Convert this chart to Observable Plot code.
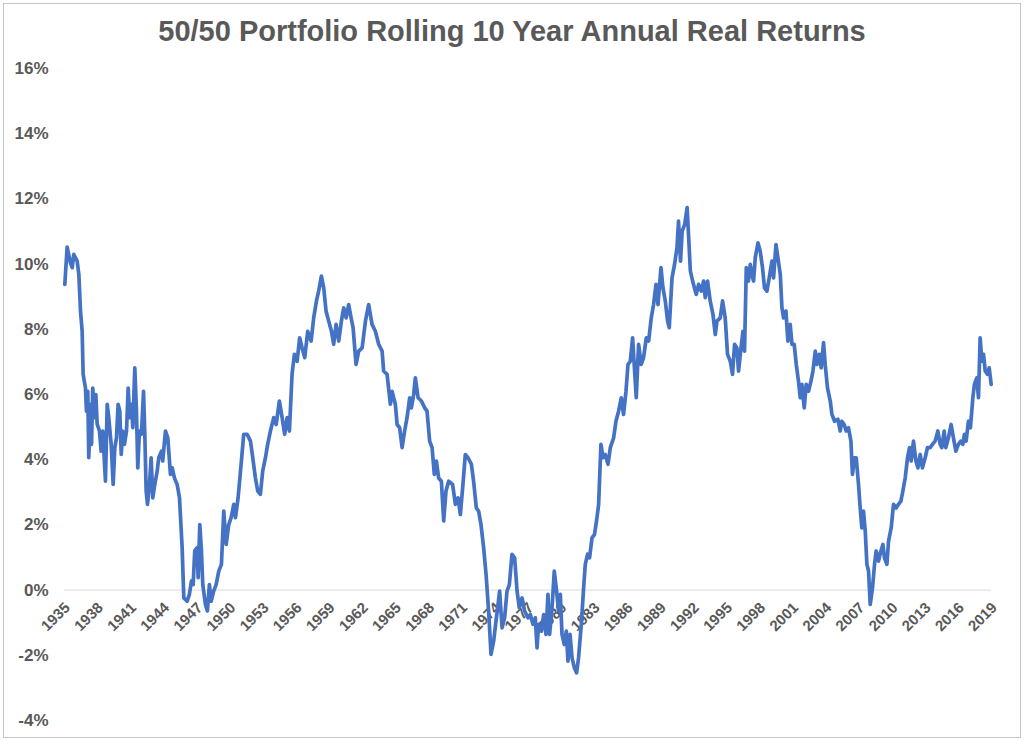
<!DOCTYPE html>
<html>
<head>
<meta charset="utf-8">
<script src="https://cdn.jsdelivr.net/npm/d3@7"></script>
<script src="https://cdn.jsdelivr.net/npm/@observablehq/plot@0.6"></script>
<style>
  html, body { margin: 0; padding: 0; background: #fff; }
  body { position: relative; width: 1024px; height: 742px; overflow: hidden; }
  .frame { position: absolute; left: 3px; top: 3px; width: 1018px; height: 735px; border: 1px solid #c4c4c4; box-sizing: border-box; }
  .title { position: absolute; top: 14px; left: 0; width: 1024px; text-align: center; margin: 0;
           font: 700 29px "Liberation Sans", Arial, sans-serif; color: #595959; line-height: 34px; }
  #chart { position: absolute; left: 0; top: 60px; }
</style>
</head>
<body>
<div class="frame"></div>
<h1 class="title">50/50 Portfolio Rolling 10 Year Annual Real Returns</h1>
<div id="chart"></div>
<script>
const chartTitle = "50/50 Portfolio Rolling 10 Year Annual Real Returns";
const xTickYears = [1935,1938,1941,1944,1947,1950,1953,1956,1959,1962,1965,1968,1971,1974,1977,1980,1983,1986,1989,1992,1995,1998,2001,2004,2007,2010,2013,2016,2019];
const yTicks = [-4,-2,0,2,4,6,8,10,12,14,16];

// rolling 10-year annualized real return (%) by year (decimal)
const years = [
1935.03,1935.24,1935.54,1935.70,1935.84,1936.15,1936.30,1936.45,1936.60,1936.69,1936.90,1936.99,1937.11,1937.20,1937.36,1937.45,1937.56,1937.72,1937.84,1937.96,
1938.17,1938.32,1938.47,1938.71,1938.87,1939.01,1939.23,1939.41,1939.56,1939.71,1939.86,1940.01,1940.14,1940.28,1940.43,1940.62,1940.77,1940.91,1941.07,1941.19,
1941.37,1941.52,1941.64,1941.79,1941.97,1942.16,1942.27,1942.40,1942.52,1942.70,1942.85,1943.00,1943.18,1943.40,1943.54,1943.79,1943.90,1944.15,1944.36,1944.60,
1944.76,1944.96,1945.21,1945.42,1945.66,1945.81,1946.11,1946.32,1946.50,1946.66,1946.80,1947.02,1947.11,1947.26,1947.41,1947.53,1947.77,1947.95,1948.13,1948.29,
1948.52,1948.74,1948.98,1949.22,1949.43,1949.65,1949.88,1950.10,1950.34,1950.49,1950.73,1951.03,1951.24,1951.55,1951.85,1952.06,1952.30,1952.51,1952.75,1952.96,
1953.21,1953.41,1953.66,1953.96,1954.18,1954.47,1954.72,1954.95,1955.17,1955.38,1955.62,1955.83,1956.08,1956.31,1956.53,1956.77,1957.04,1957.35,1957.58,1957.83,
1958.03,1958.28,1958.49,1958.70,1958.94,1959.19,1959.39,1959.61,1959.85,1960.09,1960.30,1960.52,1960.75,1960.97,1961.15,1961.42,1961.66,1961.97,1962.27,1962.56,
1962.87,1963.17,1963.47,1963.78,1963.92,1964.23,1964.53,1964.68,1964.98,1965.14,1965.37,1965.59,1965.82,1966.04,1966.28,1966.43,1966.64,1966.79,1967.04,1967.34,
1967.64,1967.85,1968.09,1968.31,1968.51,1968.70,1968.90,1969.15,1969.36,1969.57,1969.81,1970.17,1970.42,1970.66,1970.87,1971.08,1971.32,1971.57,1971.87,1972.07,
1972.32,1972.53,1972.74,1972.98,1973.20,1973.43,1973.65,1973.89,1974.10,1974.25,1974.43,1974.65,1974.88,1975.10,1975.31,1975.55,1975.79,1976.01,1976.21,1976.46,
1976.69,1977.00,1977.21,1977.45,1977.66,1977.82,1977.96,1978.21,1978.42,1978.63,1978.81,1978.96,1979.18,1979.38,1979.59,1979.77,1979.93,1980.08,1980.29,1980.47,
1980.62,1980.81,1980.99,1981.20,1981.40,1981.58,1981.83,1982.04,1982.19,1982.40,1982.58,1982.80,1983.03,1983.25,1983.40,1983.61,1983.80,1984.00,1984.25,1984.46,
1984.76,1984.97,1985.21,1985.45,1985.66,1985.88,1986.06,1986.27,1986.48,1986.66,1986.81,1987.02,1987.26,1987.47,1987.72,1987.93,1988.17,1988.38,1988.60,1988.78,
1989.05,1989.23,1989.44,1989.65,1989.80,1990.05,1990.28,1990.50,1990.64,1990.82,1990.97,1991.20,1991.42,1991.56,1991.71,1991.92,1992.16,1992.25,1992.46,1992.70,
1992.91,1993.06,1993.27,1993.51,1993.76,1993.97,1994.12,1994.42,1994.63,1994.87,1995.08,1995.33,1995.53,1995.72,1995.93,1996.08,1996.30,1996.48,1996.62,1996.78,
1996.98,1997.14,1997.29,1997.44,1997.59,1997.84,1998.04,1998.25,1998.43,1998.65,1998.86,1999.10,1999.25,1999.47,1999.65,1999.86,2000.01,2000.16,2000.37,2000.55,
2000.76,2000.92,2001.12,2001.31,2001.51,2001.67,2001.82,2002.03,2002.21,2002.42,2002.64,2002.82,2003.03,2003.18,2003.39,2003.57,2003.78,2003.93,2004.14,2004.39,
2004.54,2004.78,2005.08,2005.29,2005.44,2005.65,2005.83,2006.04,2006.26,2006.40,2006.58,2006.74,2006.95,2007.10,2007.25,2007.40,2007.56,2007.71,2007.86,2008.01,
2008.22,2008.40,2008.55,2008.76,2008.98,2009.16,2009.30,2009.52,2009.67,2009.91,2010.12,2010.36,2010.57,2010.79,2010.97,2011.18,2011.39,2011.57,2011.72,2011.93,
2012.15,2012.33,2012.54,2012.74,2012.99,2013.20,2013.44,2013.65,2013.89,2014.14,2014.35,2014.50,2014.71,2014.86,2015.10,2015.34,2015.55,2015.77,2016.00,2016.22,
2016.40,2016.55,2016.70,2016.91,2017.09,2017.31,2017.45,2017.67,2017.82,2017.97,2018.13,2018.28,2018.43,2018.63,2018.79,2018.97
];
const returns = [
9.38,10.52,10.04,9.89,10.3,10.09,9.68,8.56,7.94,6.62,6.2,5.49,6.1,4.06,5.7,4.47,6.2,5.29,6.0,5.09,
4.88,4.26,4.88,3.34,5.7,5.29,4.47,3.24,4.37,4.67,5.7,5.49,4.16,4.88,4.47,4.88,6.2,5.29,5.7,4.98,
6.82,5.49,3.75,4.88,4.78,6.1,4.88,3.04,2.63,3.24,4.06,2.83,3.24,3.65,4.06,4.26,3.96,4.88,4.67,3.55,
3.75,3.44,3.24,2.83,1.3,-0.24,-0.34,-0.13,0.28,0.17,1.2,1.3,0.38,2.01,1.2,0.17,-0.44,-0.64,0.17,-0.34,
-0.03,0.17,0.58,0.79,2.42,1.4,2.01,2.22,2.63,2.22,2.83,3.96,4.78,4.78,4.57,4.06,3.44,3.04,2.94,3.65,
4.06,4.47,4.88,5.29,5.08,5.8,5.29,4.78,5.29,4.88,6.62,7.23,7.02,7.74,7.43,7.13,7.94,7.64,8.35,8.87,
9.17,9.63,9.27,8.56,8.25,7.94,7.54,8.15,7.64,8.25,8.66,8.35,8.76,8.35,8.05,6.92,7.33,7.43,8.25,8.76,
8.15,7.94,7.54,7.33,6.72,6.62,5.7,6.1,5.7,5.08,4.98,4.37,4.88,5.29,5.9,5.59,6.0,6.51,5.9,5.8,
5.59,5.49,4.57,4.37,3.55,3.96,3.44,3.34,2.12,3.04,3.34,3.24,2.63,2.83,2.32,3.14,4.16,4.06,3.86,3.34,
2.52,2.42,2.01,1.3,0.48,-0.64,-1.97,-1.56,-0.95,-0.54,-0.03,-1.16,-0.85,-0.03,0.17,1.1,0.99,-0.03,-0.54,-0.24,
-0.64,-0.85,-0.75,-1.05,-0.85,-1.77,-1.05,-1.26,-0.75,-1.36,-0.13,-1.36,-0.54,0.58,-0.03,-0.64,-0.13,-1.36,-1.67,-1.26,
-2.18,-1.36,-2.08,-2.38,-2.54,-2.08,-1.05,0.07,0.79,1.1,0.99,1.6,1.71,2.22,2.63,4.47,4.06,4.16,3.86,4.37,
4.67,5.18,5.49,5.9,5.39,6.1,6.92,7.02,7.74,6.72,5.9,7.54,6.92,7.13,7.74,7.64,8.35,8.76,9.38,8.76,
9.89,9.27,8.87,8.25,8.05,9.58,9.99,10.5,11.32,10.09,11.01,11.22,11.73,10.81,9.79,9.48,9.17,9.07,9.38,9.17,
9.48,8.97,9.48,8.87,8.46,7.84,8.25,8.35,8.87,8.35,7.23,7.02,6.62,7.54,7.43,6.72,7.43,7.94,7.33,9.89,
9.48,9.99,9.68,9.48,10.19,10.65,10.4,9.89,9.27,9.17,9.58,10.09,9.58,10.6,10.19,9.68,8.66,8.35,8.56,7.64,
8.15,7.54,7.54,6.92,6.41,5.9,6.31,5.59,6.31,6.1,6.41,6.72,7.33,6.92,7.23,6.82,7.59,6.92,6.2,5.8,
5.39,5.18,5.24,4.88,5.18,5.08,4.88,4.98,4.57,3.55,4.06,4.06,3.24,2.52,1.91,2.42,1.81,0.79,0.58,-0.44,
0.07,0.79,1.2,0.89,1.2,1.4,0.99,0.79,1.5,1.91,2.63,2.52,2.63,2.73,3.04,3.44,4.06,4.37,3.96,4.57,
3.96,3.75,4.16,3.75,4.06,4.37,4.37,4.47,4.57,4.88,4.47,4.37,4.88,4.37,4.67,5.08,4.67,4.26,4.47,4.57,
4.47,4.78,4.57,5.18,4.98,5.9,6.31,6.51,5.9,7.74,7.02,7.23,6.72,6.62,6.82,6.31
];

const data = years.map((year, i) => ({year, value: returns[i]}));

const plot = Plot.plot({
  width: 1024,
  height: 676,
  marginTop: 8,
  marginBottom: 16,
  marginLeft: 64,
  marginRight: 33,
  style: {fontFamily: '"Liberation Sans", Arial, sans-serif', color: "#595959", background: "transparent", overflow: "visible"},
  x: {domain: [1935, 2019], axis: null},
  y: {domain: [-4, 16]},
  marks: [
    Plot.ruleY([0], {stroke: "#d9d9d9", strokeWidth: 1}),
    Plot.axisY({ticks: yTicks, tickFormat: d => d + "%", tickSize: 0, tickPadding: 16, fontSize: 17, fontWeight: "bold", label: null}),
    Plot.text(xTickYears, {x: d => d, y: () => 0, text: d => String(d), rotate: -45, textAnchor: "end", dx: 3, dy: 15, fontSize: 15, fontWeight: "bold", fill: "#595959"}),
    Plot.line(data, {x: "year", y: "value", stroke: "#4472C4", strokeWidth: 3.7, strokeLinejoin: "round", strokeLinecap: "round"})
  ]
});
document.getElementById("chart").appendChild(plot);
</script>
</body>
</html>
